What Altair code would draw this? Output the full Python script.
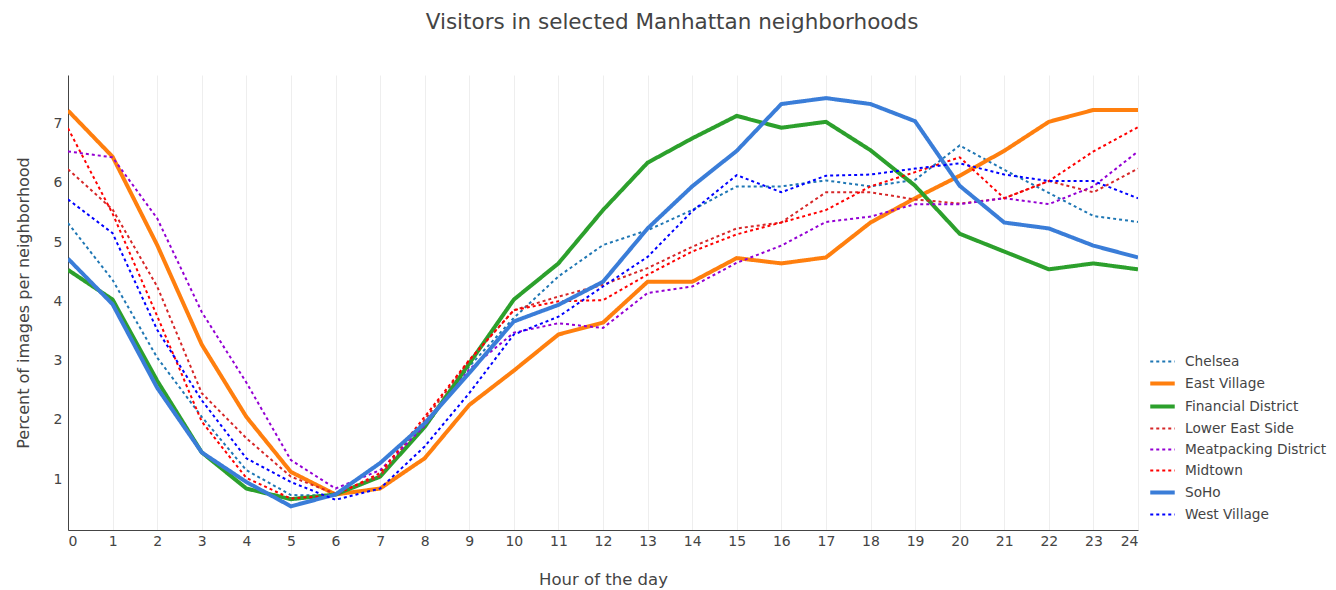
import altair as alt
import pandas as pd

hours = list(range(25))

neighborhoods = ["Chelsea", "East Village", "Financial District", "Lower East Side",
                 "Meatpacking District", "Midtown", "SoHo", "West Village"]

chelsea = [5.32, 4.36, 3.05, 2.05, 1.15, 0.73, 0.72, 1.05, 1.86, 2.90, 3.72, 4.42, 4.95,
           5.20, 5.54, 5.94, 5.94, 6.04, 5.94, 6.05, 6.63, 6.22, 5.83, 5.44, 5.34]
east_village = [7.22, 6.44, 4.95, 3.27, 2.05, 1.12, 0.74, 0.84, 1.35, 2.25, 2.83, 3.44, 3.64,
                4.33, 4.33, 4.73, 4.64, 4.74, 5.33, 5.74, 6.12, 6.54, 7.03, 7.23, 7.23]
financial = [4.53, 4.03, 2.66, 1.45, 0.84, 0.66, 0.74, 1.04, 1.88, 2.95, 4.03, 4.64, 5.54,
             6.34, 6.75, 7.13, 6.93, 7.03, 6.55, 5.95, 5.14, 4.84, 4.54, 4.64, 4.54]
lower_east_side = [6.23, 5.55, 4.25, 2.45, 1.69, 1.04, 0.75, 1.05, 2.00, 3.00, 3.85, 4.08, 4.28,
                   4.56, 4.92, 5.23, 5.33, 5.84, 5.84, 5.72, 5.65, 5.74, 6.03, 5.84, 6.24]
meatpacking = [6.53, 6.43, 5.40, 3.82, 2.63, 1.32, 0.84, 1.15, 1.90, 2.85, 3.47, 3.63, 3.55,
               4.14, 4.25, 4.65, 4.94, 5.34, 5.43, 5.64, 5.64, 5.74, 5.64, 5.94, 6.53]
midtown = [6.92, 5.48, 3.75, 1.97, 1.02, 0.67, 0.73, 1.10, 2.05, 3.01, 3.85, 4.00, 4.02,
           4.45, 4.84, 5.13, 5.33, 5.54, 5.94, 6.18, 6.43, 5.74, 6.03, 6.53, 6.94]
soho = [4.72, 3.95, 2.54, 1.45, 0.95, 0.54, 0.74, 1.27, 1.94, 2.79, 3.66, 3.94, 4.33,
        5.23, 5.94, 6.54, 7.33, 7.43, 7.33, 7.04, 5.95, 5.33, 5.23, 4.94, 4.74]
west_village = [5.72, 5.15, 3.52, 2.33, 1.35, 0.95, 0.65, 0.84, 1.55, 2.45, 3.44, 3.74, 4.25,
                4.75, 5.52, 6.13, 5.84, 6.12, 6.14, 6.24, 6.33, 6.14, 6.03, 6.03, 5.74]

series = [chelsea, east_village, financial, lower_east_side, meatpacking, midtown, soho, west_village]

colors = ["#1f77b4", "#ff7f0e", "#2ca02c", "#d62728", "#9400d3", "#ff0000", "#3a7dd8", "#0000ff"]
dashes = [[3, 3], [1, 0], [1, 0], [3, 3], [3, 3], [3, 3], [1, 0], [3, 3]]
widths = [2, 4, 4, 2, 2, 2, 4, 2]

rows = []
for name, vals in zip(neighborhoods, series):
    for h, v in zip(hours, vals):
        rows.append({"hour": h, "value": v, "neighborhood": name})
df = pd.DataFrame(rows)

FONT = "DejaVu Sans"
TXT = "#444444"

legend = alt.Legend(
    orient="none", legendX=1080, legendY=273, title=None,
    symbolType="stroke", symbolSize=600, symbolStrokeWidth=2,
    labelFontSize=13.7, labelFont=FONT, labelColor=TXT, rowPadding=0,
    labelOffset=8, labelLimit=200,
)

chart = alt.Chart(df).mark_line(clip=True).encode(
    x=alt.X("hour:Q", scale=alt.Scale(domain=[0, 24], nice=False),
            axis=alt.Axis(values=hours, title="Hour of the day", grid=True,
                          gridColor="#eeeeee", gridWidth=1, ticks=False,
                          domainColor="#444444", labelFontSize=14, labelColor=TXT,
                          labelFont=FONT, labelPadding=4, titleFont=FONT,
                          titleFontSize=16.5, titleFontWeight="normal", titleColor=TXT,
                          titlePadding=23)),
    y=alt.Y("value:Q", scale=alt.Scale(domain=[0.14, 7.82], nice=False, zero=False),
            axis=alt.Axis(values=[1, 2, 3, 4, 5, 6, 7], title="Percent of images per neighborhood",
                          grid=False, ticks=False, domainColor="#444444",
                          labelFontSize=14, labelColor=TXT, labelFont=FONT, labelPadding=6,
                          titleFont=FONT, titleFontSize=16, titleFontWeight="normal",
                          titleColor=TXT, titlePadding=22)),
    color=alt.Color("neighborhood:N", scale=alt.Scale(domain=neighborhoods, range=colors),
                    legend=legend),
    strokeDash=alt.StrokeDash("neighborhood:N", scale=alt.Scale(domain=neighborhoods, range=dashes),
                              legend=legend),
    strokeWidth=alt.StrokeWidth("neighborhood:N",
                                scale=alt.Scale(type="ordinal", domain=neighborhoods, range=widths),
                                legend=legend),
).properties(
    width=1070, height=455,
    title=alt.TitleParams("Visitors in selected Manhattan neighborhoods", font=FONT,
                          fontSize=21.5, fontWeight="normal", color=TXT, anchor="middle",
                          dx=69, offset=25, baseline="alphabetic"),
    autosize=alt.AutoSizeParams(type="none"),
    padding={"left": 60, "top": 67, "right": 190, "bottom": 60},
).configure_view(stroke=None)

chart.save("out.html", embed_options={"renderer": "svg", "actions": False})
